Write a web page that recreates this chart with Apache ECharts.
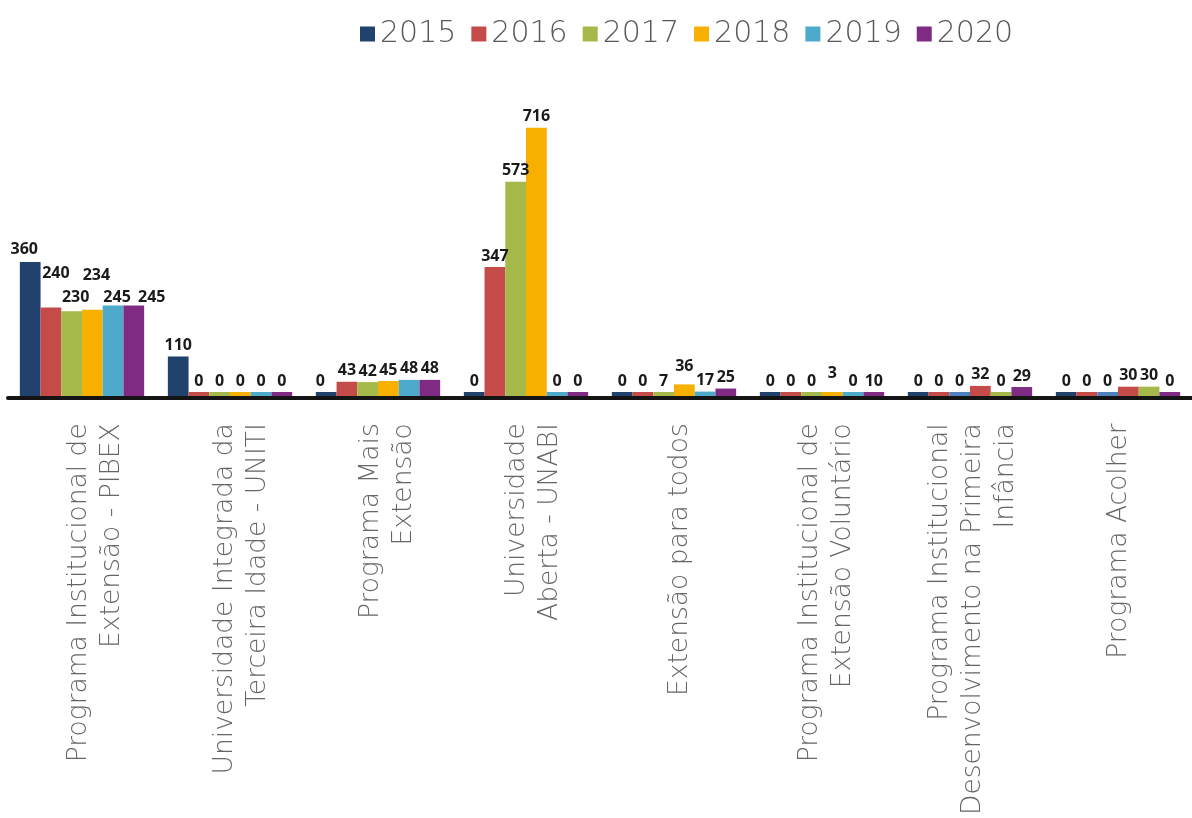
<!DOCTYPE html>
<html>
<head>
<meta charset="utf-8">
<script src="https://cdn.jsdelivr.net/npm/echarts@6/dist/echarts.min.js"></script>
<style>
html,body{margin:0;padding:0;background:#fff;}
#chart{width:1192px;height:818px;}
</style>
</head>
<body>
<div id="chart"></div>
<script>
// ---- data ----
var categories = [
  'Programa Institucional de\nExtensão - PIBEX',
  'Universidade Integrada da\nTerceira Idade - UNITI',
  'Programa Mais\nExtensão',
  'Universidade\nAberta - UNABI',
  'Extensão para todos',
  'Programa Institucional de\nExtensão Voluntário',
  'Programa Institucional\nDesenvolvimento na Primeira\nInfância',
  'Programa Acolher'
];
var years = ['2015', '2016', '2017', '2018', '2019', '2020'];
var v2015 = [360, 110, 0, 0, 0, 0, 0, 0];
var v2016 = [240, 0, 43, 347, 0, 0, 0, 0];
var v2017 = [230, 0, 42, 573, 7, 0, 0, 0];
var v2018 = [234, 0, 45, 716, 36, 3, 32, 30];
var v2019 = [245, 0, 48, 0, 17, 0, 0, 30];
var v2020 = [245, 0, 48, 0, 25, 10, 29, 0];
var seriesValues = [v2015, v2016, v2017, v2018, v2019, v2020];

// ---- styles ----
var colors = ['#22426E', '#C44B48', '#A4B94A', '#F8B000', '#4DAACA', '#7F2B83'];
// per-bar colour overrides seen in the reference (series,category)
var colorOverride = {
  '2,6': '#4F81BD', '3,6': '#C44B48', '4,6': '#A4B94A',
  '2,7': '#4F81BD', '3,7': '#C44B48', '4,7': '#A4B94A'
};
// manual label nudges seen in the reference (series,category) -> [dx, dy]
var labelShift = {
  '0,0': [-6, -2], '1,0': [5, -23], '2,0': [4, -3], '3,0': [4, -23],
  '4,0': [4, 3], '5,0': [18, 3], '0,2': [-6, 0], '3,4': [0, -7], '3,5': [0, -8]
};

var series = years.map(function (y, si) {
  return {
    name: y,
    type: 'bar',
    xAxisIndex: 0,
    yAxisIndex: 0,
    barGap: '0%',
    barCategoryGap: '16%',
    barMinHeight: 6,
    itemStyle: { color: colors[si] },
    label: {
      show: true,
      position: 'top',
      distance: 3,
      color: '#1a1a1a',
      fontFamily: 'Open Sans',
      fontWeight: 'bold',
      fontSize: 16
    },
    data: seriesValues[si].map(function (v, ci) {
      var key = si + ',' + ci;
      var d = { value: v };
      if (colorOverride[key]) d.itemStyle = { color: colorOverride[key] };
      if (labelShift[key]) d.label = { offset: labelShift[key] };
      return d;
    })
  };
});

var chart = echarts.init(document.getElementById('chart'), null, { renderer: 'canvas' });
chart.setOption({
  backgroundColor: '#ffffff',
  animation: false,
  color: colors,
  legend: {
    top: 14,
    left: 355,
    itemWidth: 15,
    itemHeight: 15,
    itemGap: 15,
    icon: 'rect',
    textStyle: { fontFamily: 'DejaVu Sans', fontWeight: 200, fontSize: 30, color: '#595959' },
    data: years
  },
  grid: [
    { left: 8, right: 0, top: 96, bottom: 420, containLabel: false },
    // label grid: same categories, category labels sit slightly right of the bar groups
    { left: 22, right: -14, top: 96, bottom: 420, containLabel: false }
  ],
  xAxis: [
    {
      type: 'category',
      gridIndex: 0,
      data: categories,
      z: 10,
      axisLine: { show: true, lineStyle: { color: '#141414', width: 4 } },
      axisTick: { show: false },
      axisLabel: { show: false }
    },
    {
      type: 'category',
      gridIndex: 1,
      data: categories,
      axisLine: { show: false },
      axisTick: { show: false },
      axisLabel: {
        interval: 0,
        rotate: 90,
        margin: 33,
        fontFamily: 'DejaVu Sans',
        fontWeight: 200,
        fontSize: 26.5,
        lineHeight: 33,
        color: '#666666'
      }
    }
  ],
  yAxis: [
    { type: 'value', gridIndex: 0, min: 0, max: 800, show: false, splitLine: { show: false } },
    { type: 'value', gridIndex: 1, min: 0, max: 800, show: false, splitLine: { show: false } }
  ],
  series: series
});
</script>
</body>
</html>
